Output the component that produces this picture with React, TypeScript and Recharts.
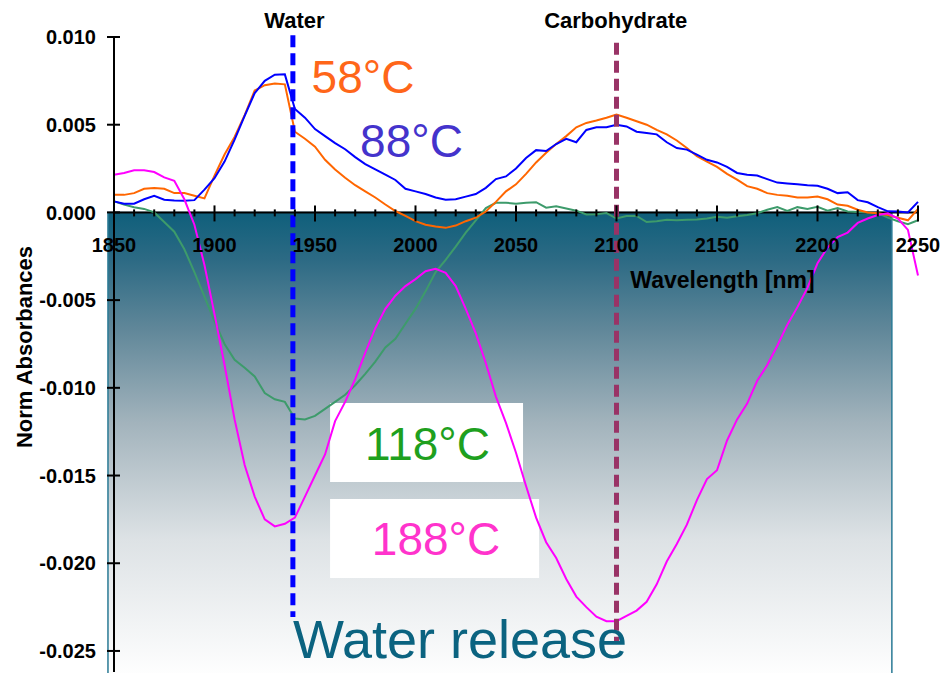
import { LineChart, Line, XAxis, YAxis, ReferenceArea, ReferenceLine, ReferenceDot } from 'recharts';

// wavelength grid [nm]
const wavelengths = [
  1850, 1855, 1860, 1865, 1870, 1875, 1880, 1885, 1890, 1895,
  1900, 1905, 1910, 1915, 1920, 1925, 1930, 1935, 1940, 1945,
  1950, 1955, 1960, 1965, 1970, 1975, 1980, 1985, 1990, 1995,
  2000, 2005, 2010, 2015, 2020, 2025, 2030, 2035, 2040, 2045,
  2050, 2055, 2060, 2065, 2070, 2075, 2080, 2085, 2090, 2095,
  2100, 2105, 2110, 2115, 2120, 2125, 2130, 2135, 2140, 2145,
  2150, 2155, 2160, 2165, 2170, 2175, 2180, 2185, 2190, 2195,
  2200, 2205, 2210, 2215, 2220, 2225, 2230, 2235, 2240, 2245,
  2250
];

// norm absorbance, in units of 0.001
const abs58 = [
  1.0, 1.0, 1.1, 1.35, 1.39, 1.35, 1.1, 1.1, 0.95, 0.8,
  2.1, 3.3, 4.3, 5.55, 6.95, 7.25, 7.35, 7.3, 4.6, 4.2,
  3.75, 3.0, 2.45, 1.98, 1.55, 1.2, 0.85, 0.45, 0.08, -0.2,
  -0.5, -0.7, -0.8, -0.88, -0.75, -0.5, -0.3, 0.05, 0.6, 1.2,
  1.6, 2.2, 2.85, 3.4, 3.9, 4.35, 4.85, 5.1, 5.24, 5.4,
  5.58, 5.4, 5.2, 5.0, 4.7, 4.45, 4.1, 3.67, 3.2, 2.9,
  2.6, 2.2, 1.87, 1.5, 1.35, 1.1, 1.0, 0.95, 0.85, 0.85,
  0.9, 0.75, 0.45, 0.38, 0.15, 0.0, -0.05, -0.15, -0.3, -0.45,
  0.2
];

const abs88 = [
  0.63, 0.5, 0.5, 0.75, 0.95, 0.72, 0.68, 0.67, 0.7, 1.3,
  1.95, 2.9, 4.15, 5.5, 6.8, 7.5, 7.85, 7.87, 5.9, 5.4,
  4.75, 4.35, 3.95, 3.6, 3.15, 2.75, 2.45, 2.15, 1.85, 1.35,
  1.2, 1.05, 0.85, 0.72, 0.75, 0.9, 1.05, 1.4, 1.9, 2.05,
  2.5, 3.1, 3.55, 3.5, 3.9, 4.2, 4.0, 4.7, 4.85, 4.85,
  5.0, 4.9, 4.6, 4.53, 4.45, 4.0, 3.67, 3.58, 3.3, 3.0,
  2.85, 2.6, 2.25, 2.15, 2.1, 1.9, 1.7, 1.65, 1.6, 1.55,
  1.52, 1.35, 1.1, 1.15, 0.7, 0.58, 0.3, 0.06, 0.05, 0.0,
  0.6
];

const abs118 = [
  0.63, 0.45, 0.3, 0.2, 0.0, -0.55, -1.1, -2.1, -3.4, -4.8,
  -6.2, -7.5, -8.4, -8.85, -9.35, -10.3, -10.65, -10.8, -11.75, -11.8,
  -11.6, -11.2, -10.8, -10.4, -9.85, -9.2, -8.5, -7.7, -7.2, -6.35,
  -5.5, -4.5, -3.4, -2.7, -1.95, -1.15, -0.45, 0.25, 0.55, 0.55,
  0.5, 0.55, 0.58, 0.27, 0.35, 0.22, 0.1, -0.12, -0.1, -0.04,
  -0.35, -0.2, -0.2, -0.55, -0.5, -0.42, -0.45, -0.42, -0.4, -0.35,
  -0.25, -0.3, -0.22, -0.15, -0.05, 0.15, 0.3, 0.08, 0.3, 0.2,
  0.32, 0.1, 0.25, 0.05, 0.02, 0.0, -0.04, -0.3, -0.5, -0.67,
  -0.45
];

const abs188 = [
  2.15, 2.25, 2.4, 2.4, 2.3, 2.0, 1.8, 0.75, -0.7, -3.0,
  -5.8, -8.7, -11.8, -14.4, -16.2, -17.5, -17.9, -17.75, -17.4, -16.2,
  -15.0, -13.8, -11.9, -10.8, -9.5, -8.0, -6.6, -5.5, -4.75, -4.2,
  -3.8, -3.35, -3.22, -3.45, -4.2, -5.5, -6.9, -8.6, -10.5, -12.0,
  -13.7, -15.6, -17.4, -18.8, -19.7, -20.9, -21.9, -22.5, -23.05, -23.3,
  -23.3, -23.0, -22.7, -22.2, -21.2, -19.9, -18.9, -17.8, -16.4, -15.2,
  -14.7, -13.0, -11.8, -10.9, -9.6, -8.7, -7.6, -6.4, -5.4, -4.3,
  -2.9, -2.0, -1.4, -1.15, -0.6, -0.35, -0.15, -0.05, -0.35, -1.0,
  -3.6
];

const yTicks = [0.01, 0.005, 0, -0.005, -0.01, -0.015, -0.02, -0.025];
const xMajorTicks = [1850, 1900, 1950, 2000, 2050, 2100, 2150, 2200, 2250];
const xMinorTicks = [
  1860, 1870, 1880, 1890, 1910, 1920, 1930, 1940, 1960, 1970, 1980, 1990,
  2010, 2020, 2030, 2040, 2060, 2070, 2080, 2090, 2110, 2120, 2130, 2140,
  2160, 2170, 2180, 2190, 2210, 2220, 2230, 2240
];

const rows = wavelengths.map((nm, i) => ({
  nm,
  t58: abs58[i] / 1000,
  t88: abs88[i] / 1000,
  t118: abs118[i] / 1000,
  t188: abs188[i] / 1000
}));

const font = 'Arial, "Liberation Sans", sans-serif';

const xTick = (value: number, major: boolean) => (p: any) => (
  <g>
    <line x1={p.cx} x2={p.cx} y1={p.cy - (major ? 7 : 3)} y2={p.cy + (major ? 9 : 4)} stroke="#000" strokeWidth={2} />
    {major && (
      <text x={p.cx} y={p.cy + 40} textAnchor="middle" fontFamily={font} fontWeight="bold" fontSize={20} fill="#000">
        {value}
      </text>
    )}
  </g>
);

const yTick = (p: any) => (
  <line x1={p.cx - 7} x2={p.cx + 6} y1={p.cy} y2={p.cy} stroke="#000" strokeWidth={2} />
);

export default function App() {
  return (
    <div style={{ position: 'relative', width: 943, height: 673, overflow: 'hidden' }}>
      <style>{'body{margin:0}'}</style>
      <LineChart width={943} height={673} data={rows} margin={{ top: 37, right: 25, left: 0, bottom: 1 }}>
        <defs>
          <linearGradient id="dropFill" x1="0" y1="0" x2="0" y2="1">
            <stop offset="0%" stopColor="#0f5f7b" />
            <stop offset="10%" stopColor="#2c6a84" />
            <stop offset="25%" stopColor="#608799" />
            <stop offset="45%" stopColor="#a2b3bc" />
            <stop offset="70%" stopColor="#dde2e5" />
            <stop offset="100%" stopColor="#ffffff" />
          </linearGradient>
        </defs>
        <XAxis dataKey="nm" type="number" domain={[1850, 2250]} hide />
        <YAxis
          type="number"
          domain={[-0.0262, 0.01]}
          ticks={yTicks}
          width={114}
          interval={0}
          tickFormatter={(v: number) => v.toFixed(3)}
          tick={{ fill: '#000', fontSize: 20, fontWeight: 'bold', fontFamily: font }}
          tickLine={false}
          tickSize={6}
          tickMargin={12}
          axisLine={{ stroke: '#000', strokeWidth: 2 }}
        />
        <ReferenceArea
          x1={1847}
          x2={2237}
          y1={-0.0266}
          y2={0}
          fill="url(#dropFill)"
          fillOpacity={1}
          stroke="#2a7a95"
          strokeWidth={1.5}
          ifOverflow="visible"
        />
        <ReferenceArea x1={1957.5} x2={2053.5} y1={-0.01537} y2={-0.01086} fill="#ffffff" fillOpacity={1} stroke="none" />
        <ReferenceArea x1={1957.5} x2={2061.5} y1={-0.02084} y2={-0.01634} fill="#ffffff" fillOpacity={1} stroke="none" />
        <ReferenceLine y={0} stroke="#000" strokeWidth={2} />
        {xMinorTicks.map((t) => (
          <ReferenceDot key={'m' + t} x={t} y={0} r={0} shape={xTick(t, false)} />
        ))}
        {xMajorTicks.map((t) => (
          <ReferenceDot key={'M' + t} x={t} y={0} r={0} shape={xTick(t, true)} />
        ))}
        {yTicks.map((t) => (
          <ReferenceDot key={'y' + t} x={1850} y={t} r={0} shape={yTick} />
        ))}
        <Line type="linear" dataKey="t118" stroke="#3d9b6b" strokeWidth={2} dot={false} isAnimationActive={false} />
        <Line type="linear" dataKey="t58" stroke="#ff6600" strokeWidth={2} dot={false} isAnimationActive={false} />
        <Line type="linear" dataKey="t88" stroke="#0000ff" strokeWidth={2} dot={false} isAnimationActive={false} />
        <Line type="linear" dataKey="t188" stroke="#ff00ff" strokeWidth={2} dot={false} isAnimationActive={false} />
        <ReferenceLine
          segment={[{ x: 1939, y: 0.0101 }, { x: 1939, y: -0.02307 }]}
          stroke="#0000ff"
          strokeWidth={5}
          strokeDasharray="12 6"
          ifOverflow="visible"
        />
        <ReferenceLine
          segment={[{ x: 2100, y: 0.00967 }, { x: 2100, y: -0.02455 }]}
          stroke="#993366"
          strokeWidth={5}
          strokeDasharray="12 6"
          ifOverflow="visible"
        />
      </LineChart>
      <svg width={943} height={673} style={{ position: 'absolute', left: 0, top: 0, pointerEvents: 'none' }}>
        <g fontFamily={font}>
          <text x={294.5} y={28} textAnchor="middle" fontWeight="bold" fontSize={22} fill="#000">Water</text>
          <text x={615.7} y={28} textAnchor="middle" fontWeight="bold" fontSize={22} fill="#000">Carbohydrate</text>
          <text x={722.5} y={288} textAnchor="middle" fontWeight="bold" fontSize={23} fill="#000">Wavelength [nm]</text>
          <text x={32} y={347} textAnchor="middle" fontWeight="bold" fontSize={22} fill="#000" transform="rotate(-90 32 347)">Norm Absorbances</text>
          <text x={363} y={93} textAnchor="middle" fontSize={46} fill="#ff6619">58°C</text>
          <text x={411.5} y={157} textAnchor="middle" fontSize={46} fill="#4433cc">88°C</text>
          <text x={427.5} y={460} textAnchor="middle" fontSize={46} fill="#1ea01e">118°C</text>
          <text x={436} y={555} textAnchor="middle" fontSize={46} fill="#ff33cc">188°C</text>
          <text x={293} y={658} fontSize={54} fill="#0b6380">Water release</text>
        </g>
      </svg>
    </div>
  );
}
